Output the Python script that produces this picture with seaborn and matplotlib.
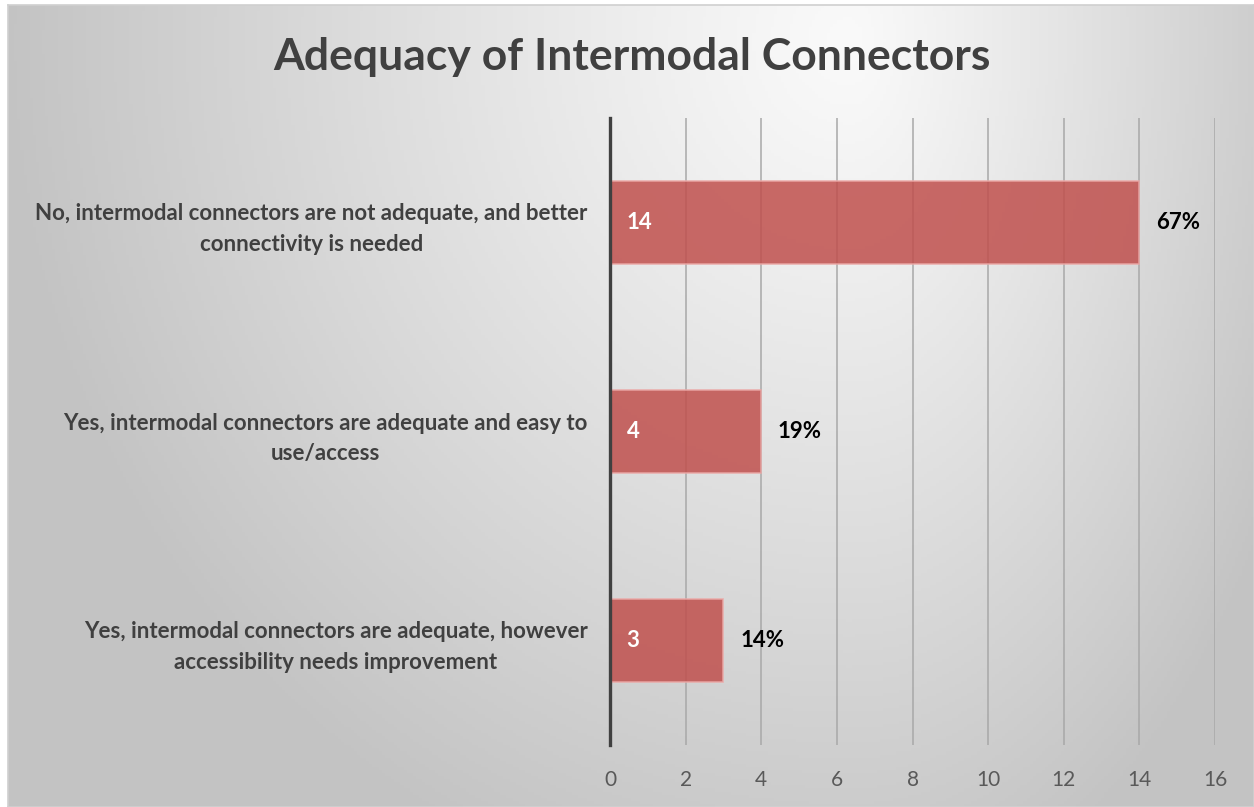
import numpy as np
import pandas as pd
import matplotlib.pyplot as plt
import seaborn as sns

# ==========================================
# Data
# ==========================================
categories = [
    "No, intermodal connectors are not adequate, and better\nconnectivity is needed",
    "Yes, intermodal connectors are adequate and easy to\nuse/access",
    "Yes, intermodal connectors are adequate, however\naccessibility needs improvement",
]
counts = [14, 4, 3]
percents = ["67%", "19%", "14%"]
xticks = [0, 2, 4, 6, 8, 10, 12, 14, 16]

TITLE = "Adequacy of Intermodal Connectors"
FONT = "Lato"
BAR_COLOR = "#C0504D"
TEXT_DARK = "#404040"

W, H = 1254, 807
DPI = 100

sns.set_style("white")
plt.rcParams['font.family'] = [FONT, 'DejaVu Sans']

fig = plt.figure(figsize=(W / DPI, H / DPI), dpi=DPI, facecolor="white")

# --- gradient background (light spot top-right, gray edges) ---
bg = fig.add_axes([8 / W, 0, 1 - 8 / W, 1 - 5 / H], zorder=-10)
xs = np.linspace(8, W, 400)
ys = np.linspace(5, H, 260)
X, Y = np.meshgrid(xs, ys)
cx, cy = 850, 40
dx = np.where(X < cx, (X - cx) / 850, (X - cx) / 500)
dy = (Y - cy) / 900
d = np.clip(np.sqrt(dx ** 2 + dy ** 2), 0, 1)
g = (250 - 55 * d ** 1.1) / 255
bg.imshow(np.dstack([g, g, g]), aspect="auto", extent=[0, 1, 0, 1], origin="upper")
bg.set_xticks([])
bg.set_yticks([])
for s in bg.spines.values():
    s.set_color("#d0d0d0")
    s.set_linewidth(1.2)

# --- main axes ---
ax = fig.add_axes([610 / W, 62 / H, 605 / W, 627 / H])
ax.patch.set_alpha(0)

df = pd.DataFrame({"category": categories, "count": counts})
sns.barplot(data=df, x="count", y="category", orient="h", color=BAR_COLOR,
            width=0.4, alpha=0.85, edgecolor="#EBA8A6", linewidth=1.2,
            saturation=1, ax=ax, zorder=3)

ax.set_xlim(0, 16)
ax.set_ylim(2.5, -0.5)
ax.set_xticks(xticks)
ax.set_xticklabels([str(t) for t in xticks])
ax.set_xlabel("")
ax.set_ylabel("")

ax.grid(axis="x", color="#a8a8a8", linewidth=1.1, zorder=0)
ax.grid(axis="y", visible=False)
ax.set_axisbelow(True)

for side in ["top", "right", "bottom"]:
    ax.spines[side].set_visible(False)
ax.spines["left"].set_color(TEXT_DARK)
ax.spines["left"].set_linewidth(2.4)
ax.spines["left"].set_zorder(5)

ax.tick_params(axis="x", length=0, pad=18, labelsize=15, labelcolor="#595959")
ax.tick_params(axis="y", length=0, pad=16, labelsize=16, labelcolor=TEXT_DARK)
for lab in ax.get_yticklabels():
    lab.set_fontweight("bold")
    lab.set_multialignment("center")
    lab.set_linespacing(1.55)

# Value labels
for i, (c, p) in enumerate(zip(counts, percents)):
    ax.annotate(str(c), xy=(0, i), xytext=(12, 0), textcoords="offset points",
                ha="left", va="center", color="white", fontsize=16,
                fontweight="bold", zorder=6)
    ax.annotate(p, xy=(c, i), xytext=(12, 0), textcoords="offset points",
                ha="left", va="center", color="black", fontsize=16,
                fontweight="bold", zorder=6)

fig.text(632 / W, 1 - 57 / H, TITLE, ha="center", va="center",
         fontsize=32, fontweight="bold", color=TEXT_DARK)

fig.savefig("out.png", dpi=DPI, facecolor=fig.get_facecolor())
